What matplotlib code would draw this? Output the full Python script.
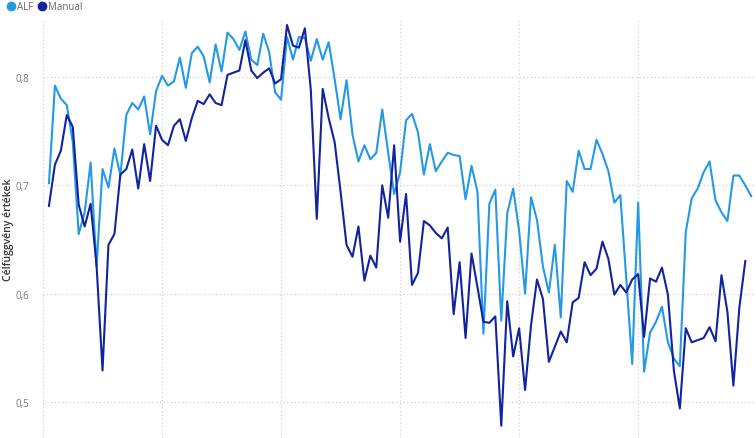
import matplotlib
matplotlib.use("Agg")
import matplotlib.pyplot as plt
from matplotlib.lines import Line2D
import numpy as np

# values, one point per run (x = 1, 2, ...)
alf = [0.702, 0.792, 0.780, 0.774, 0.740, 0.655, 0.675, 0.721, 0.625, 0.715,
       0.698, 0.734, 0.709, 0.765, 0.776, 0.770, 0.782, 0.747, 0.787, 0.801,
       0.792, 0.796, 0.818, 0.790, 0.822, 0.828, 0.819, 0.795, 0.830, 0.805,
       0.841, 0.835, 0.825, 0.842, 0.816, 0.811, 0.840, 0.823, 0.786, 0.779,
       0.837, 0.816, 0.837, 0.836, 0.815, 0.835, 0.816, 0.832, 0.798, 0.761,
       0.797, 0.747, 0.722, 0.737, 0.724, 0.730, 0.770, 0.730, 0.692, 0.712,
       0.760, 0.766, 0.749, 0.710, 0.738, 0.713, 0.722, 0.730, 0.728, 0.727,
       0.687, 0.718, 0.694, 0.563, 0.683, 0.696, 0.575, 0.674, 0.697, 0.658,
       0.600, 0.689, 0.668, 0.625, 0.601, 0.645, 0.578, 0.704, 0.694, 0.732,
       0.715, 0.715, 0.742, 0.729, 0.713, 0.684, 0.691, 0.614, 0.535, 0.684,
       0.528, 0.564, 0.574, 0.588, 0.555, 0.540, 0.533, 0.657, 0.688, 0.697,
       0.712, 0.722, 0.686, 0.675, 0.667, 0.709, 0.709, 0.700, 0.690]

manual = [0.681, 0.719, 0.732, 0.765, 0.754, 0.682, 0.662, 0.683, 0.626, 0.529,
          0.645, 0.655, 0.710, 0.715, 0.733, 0.697, 0.738, 0.704, 0.755, 0.742,
          0.737, 0.755, 0.761, 0.741, 0.762, 0.778, 0.775, 0.784, 0.776, 0.774,
          0.802, 0.804, 0.806, 0.834, 0.806, 0.799, 0.804, 0.808, 0.794, 0.798,
          0.848, 0.829, 0.827, 0.845, 0.788, 0.669, 0.789, 0.762, 0.740, 0.694,
          0.645, 0.634, 0.662, 0.612, 0.635, 0.624, 0.700, 0.670, 0.737, 0.648,
          0.692, 0.608, 0.619, 0.667, 0.663, 0.656, 0.651, 0.661, 0.581, 0.629,
          0.559, 0.637, 0.606, 0.574, 0.573, 0.579, 0.478, 0.593, 0.542, 0.568,
          0.511, 0.571, 0.613, 0.595, 0.537, 0.551, 0.565, 0.555, 0.592, 0.596,
          0.629, 0.617, 0.623, 0.648, 0.632, 0.599, 0.608, 0.601, 0.613, 0.618,
          0.560, 0.614, 0.611, 0.624, 0.599, 0.529, 0.494, 0.568, 0.555, 0.557,
          0.559, 0.569, 0.556, 0.617, 0.583, 0.515, 0.587, 0.630]

series_names = ["ALF", "Manual"]
y_ticks = [0.5, 0.6, 0.7, 0.8]
y_tick_labels = ["0,5", "0,6", "0,7", "0,8"]
x_grid = [0, 20, 40, 60, 80, 100]

alf_color = "#2499E6"
manual_color = "#12239E"

plt.rcParams["font.family"] = ["Open Sans", "DejaVu Sans"]

fig = plt.figure(figsize=(7.56, 4.39), dpi=100)
ax = fig.add_axes([43 / 756, 0, 1 - 43 / 756, 419 / 439])

x_alf = np.arange(1, len(alf) + 1)
x_manual = np.arange(1, len(manual) + 1)
ax.plot(x_alf, alf, color=alf_color, lw=1.5, zorder=3)
ax.plot(x_manual, manual, color=manual_color, lw=1.5, zorder=4)

ax.set_xlim(0, 119.8)
ax.set_ylim(0.8 - 361 / 1083, 0.8 + 58 / 1083)

ax.set_yticks(y_ticks)
ax.set_yticklabels(y_tick_labels, fontsize=7, color="#777777")
ax.set_xticks(x_grid)
ax.tick_params(axis="x", length=0, labelbottom=False)
ax.tick_params(axis="y", length=0, pad=10)

ax.grid(True, linestyle=(0, (1, 2)), color="#d0d0d0", lw=0.9)
ax.set_axisbelow(True)
for s in ax.spines.values():
    s.set_visible(False)

ax.set_ylabel("Célfüggvény értékek", fontsize=7.5, color="#333333",
              fontweight="semibold", va="center")
ax.yaxis.set_label_coords(-34 / 713, 0.5)

handles = [Line2D([], [], marker="o", ls="", color=alf_color, markersize=6),
           Line2D([], [], marker="o", ls="", color=manual_color, markersize=6)]
fig.legend(handles, series_names, loc="upper left", bbox_to_anchor=(-0.004, 1.015),
           ncol=2, frameon=False, fontsize=7, handletextpad=0.15,
           columnspacing=0.4, handlelength=1.0, labelcolor="#666666")

fig.savefig("out.png", dpi=100)
